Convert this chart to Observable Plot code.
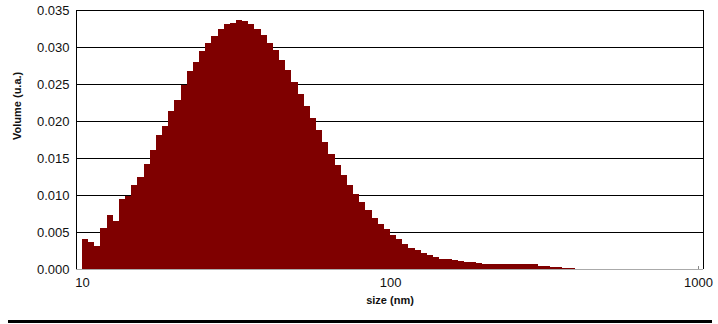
<!DOCTYPE html>
<html>
<head>
<meta charset="utf-8">
<script src="https://cdn.jsdelivr.net/npm/d3@7"></script>
<script src="https://cdn.jsdelivr.net/npm/@observablehq/plot@0.6"></script>
<style>
  html, body { margin: 0; padding: 0; background: #fff; }
  #wrap { position: relative; width: 718px; height: 324px; }
  #wrap svg { font-family: "Liberation Sans", Arial, sans-serif; }
  #rule { position: absolute; left: 8px; top: 320px; width: 704px; height: 3px; background: #000; }
</style>
</head>
<body>
<div id="wrap"><div id="rule"></div></div>
<script>
// Size distribution: log-spaced bins starting at 10 nm, 50 bins per decade
const startSize = 10;
const binsPerDecade = 50;
const volume = [
  0.0040, 0.0036, 0.0031, 0.0055, 0.0073, 0.0065, 0.0095, 0.0099, 0.0113, 0.0124,
  0.0142, 0.0161, 0.0181, 0.0193, 0.0213, 0.0228, 0.0249, 0.0268, 0.0280, 0.0294,
  0.0306, 0.0315, 0.0325, 0.0331, 0.0333, 0.0336, 0.0335, 0.0331, 0.0324, 0.0316,
  0.0306, 0.0296, 0.0282, 0.0269, 0.0253, 0.0236, 0.0220, 0.0204, 0.0188, 0.0172,
  0.0156, 0.0141, 0.0127, 0.0113, 0.0101, 0.0090, 0.0080, 0.0069, 0.0061, 0.0054,
  0.0046, 0.0040, 0.0034, 0.0029, 0.0026, 0.0022, 0.0019, 0.0016, 0.0014, 0.0013,
  0.0012, 0.0011, 0.0010, 0.0009, 0.0008, 0.00068, 0.00066, 0.00065, 0.00065, 0.00065,
  0.00064, 0.00064, 0.00063, 0.00062, 0.00047, 0.00043, 0.00029, 0.00025, 0.00012, 0.00008,
  0.00003, 0.00003, 0.00003, 0.00003, 0.00003, 0.00003, 0.00003, 0.00003, 0.00003, 0.00003
];
const xTicks = [10, 100, 1000];
const yTicks = [0, 0.005, 0.010, 0.015, 0.020, 0.025, 0.030, 0.035];
const xLabel = "size (nm)";
const yLabel = "Volume (u.a.)";

const bins = volume.map((v, i) => ({
  x1: startSize * Math.pow(10, i / binsPerDecade),
  x2: startSize * Math.pow(10, (i + 1) / binsPerDecade),
  v
}));

const chart = Plot.plot({
  width: 718,
  height: 316,
  marginLeft: 76,
  marginRight: 15,
  marginTop: 10,
  marginBottom: 47,
  style: { fontFamily: "Liberation Sans, Arial, sans-serif", fontSize: "13px", color: "#111", background: "#fff" },
  x: { type: "log", domain: [9.56, 1038] },
  y: { domain: [0, 0.035] },
  marks: [
    Plot.ruleY(yTicks, { stroke: "#000", strokeWidth: 1, strokeOpacity: 1 }),
    Plot.rectY(bins, { x1: "x1", x2: "x2", y: "v", fill: "#7f0000", inset: 0, shapeRendering: "crispEdges" }),
    Plot.ruleY([0], { stroke: "#aaa", strokeWidth: 1 }),
    Plot.ruleX([9.56], { stroke: "#000", strokeWidth: 1 }),
    Plot.ruleX([1038], { stroke: "#000", strokeWidth: 1 }),
    Plot.ruleX([1000], { y1: 0, y2: 0.0004, stroke: "#888" }),
    Plot.axisX({ ticks: xTicks, tickFormat: d => String(d), tickSize: 0, tickPadding: 8, label: null, fontSize: 13 }),
    Plot.axisY({ ticks: yTicks, tickFormat: d => d.toFixed(3), tickSize: 0, tickPadding: 7, label: null, fontSize: 13 }),
    Plot.text([xLabel], { frameAnchor: "bottom", dy: 34, text: d => d, fontWeight: "bold", fontSize: 11, fill: "#111" }),
    Plot.text([yLabel], { frameAnchor: "left", dx: -59, rotate: -90, text: d => d, fontWeight: "bold", fontSize: 11, fill: "#111" })
  ]
});
document.getElementById("wrap").prepend(chart);
</script>
</body>
</html>
